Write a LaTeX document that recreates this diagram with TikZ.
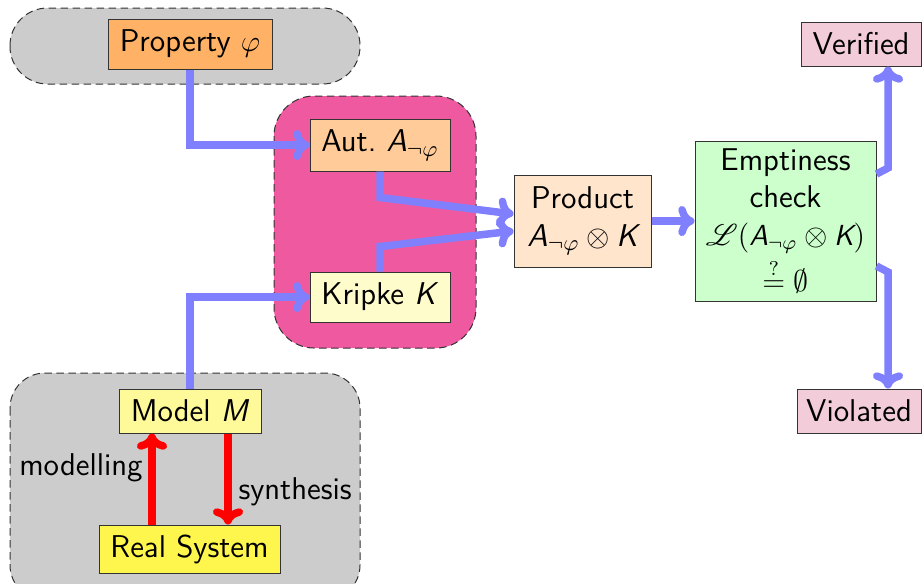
\documentclass[tikz,border=0pt]{standalone}
\usepackage{amsmath,amssymb}
\usepackage{mathrsfs}
\usepackage{fontspec}
\usetikzlibrary{arrows.meta,calc}
\newdimen\px \px=0.4pt
\definecolor{pinkbox}{RGB}{238,89,160}
\definecolor{flow}{RGB}{128,128,255}
\definecolor{grpgray}{RGB}{204,204,204}
\begin{document}
\begin{tikzpicture}[x=0.4pt,y=-0.4pt,
  font=\sffamily\fontsize{12.6}{15}\selectfont,
  box/.style={draw=black!80, line width=1\px, inner sep=0pt, align=center},
  grp/.style={draw=black!80, dash pattern=on 3pt off 1.8pt, line width=1\px},
  flowarrow/.style={draw=flow, line width=7.5\px, -{Computer Modern Rightarrow[length=6.5pt,width=12pt]}},
  redarrow/.style={draw=red, line width=7.5\px, -{Computer Modern Rightarrow[length=6.5pt,width=12pt]}},
  lbl/.style={inner sep=0pt}]
\useasboundingbox (0,0) rectangle (924,583);
% groups
\draw[grp, fill=grpgray, rounded corners=15pt] (10,8) rectangle (360,84);
\draw[grp, fill=pinkbox, rounded corners=16pt] (274,96) rectangle (476,348);
\draw[grp, fill=grpgray, rounded corners=14pt] (10,373) rectangle (360,600);
% nodes
\node[box, fill=orange!60, minimum width=164\px, minimum height=50\px] (prop) at (190,44) {Property $\varphi$};
\node[box, fill=orange!40, minimum width=140\px, minimum height=52\px] (aut) at (380,145) {Aut.\ \textit{A}$_{\neg\varphi}$};
\node[box, fill=yellow!20, minimum width=140\px, minimum height=50\px] (kripke) at (380,297) {Kripke \textit{K}};
\node[box, fill=orange!20, minimum width=137\px, minimum height=92\px] (prod) at (582.5,221) {Product\\$\textit{A}_{\neg\varphi}\otimes\textit{K}$};
\node[box, fill=green!20, minimum width=181\px, minimum height=160\px] (emp) at (785.5,221) {Emptiness\\check\\[0pt]{\fontsize{11.6}{13}\selectfont $\mathscr{L}(\textit{A}_{\neg\varphi}\otimes\textit{K})$}\\[1pt]{\fontsize{11.6}{13}\selectfont $\stackrel{?}{=}\emptyset$}};
\node[box, fill=purple!20, minimum width=120\px, minimum height=44\px] (ver) at (861,44) {Verified};
\node[box, fill=purple!20, minimum width=124\px, minimum height=44\px] (vio) at (859,411) {Violated};
\node[box, fill=yellow!40, minimum width=142\px, minimum height=44\px] (model) at (190,411) {Model \textit{M}};
\node[box, fill=yellow!70, minimum width=181\px, minimum height=48\px] (real) at (189.5,549) {Real System};
% connectors
\draw[flowarrow] (prop.south) |- (aut.west);
\draw[flowarrow] (model.north) |- (kripke.west);
\draw[flowarrow] (aut.south) -- ++(0,26) -- ($(prod.west)+(0,-7)$);
\draw[flowarrow] (kripke.north) -- ++(0,-25) -- ($(prod.west)+(0,10)$);
\draw[flowarrow] (prod.east) -- (emp.east -| emp.west);
\coordinate (v0) at ($(emp.east)+(0,-47)$);
\coordinate (v1) at (888,168);
\draw[flowarrow] (v0) -- (v1) -- (v1 |- ver.south);
\coordinate (w0) at ($(emp.east)+(0,45)$);
\coordinate (w1) at (888,272);
\draw[flowarrow] (w0) -- (w1) -- (w1 |- vio.north);
\coordinate (m1) at ($(real.north)+(-37.5,0)$);
\draw[redarrow] (m1) -- (m1 |- model.south);
\coordinate (s1) at ($(model.south)+(38,0)$);
\draw[redarrow] (s1) -- (s1 |- real.north);
\node[lbl, anchor=east] (lmod) at (143,468) {modelling};
\node[lbl, anchor=west] (lsyn) at (238,492) {synthesis};
\end{tikzpicture}
\end{document}
